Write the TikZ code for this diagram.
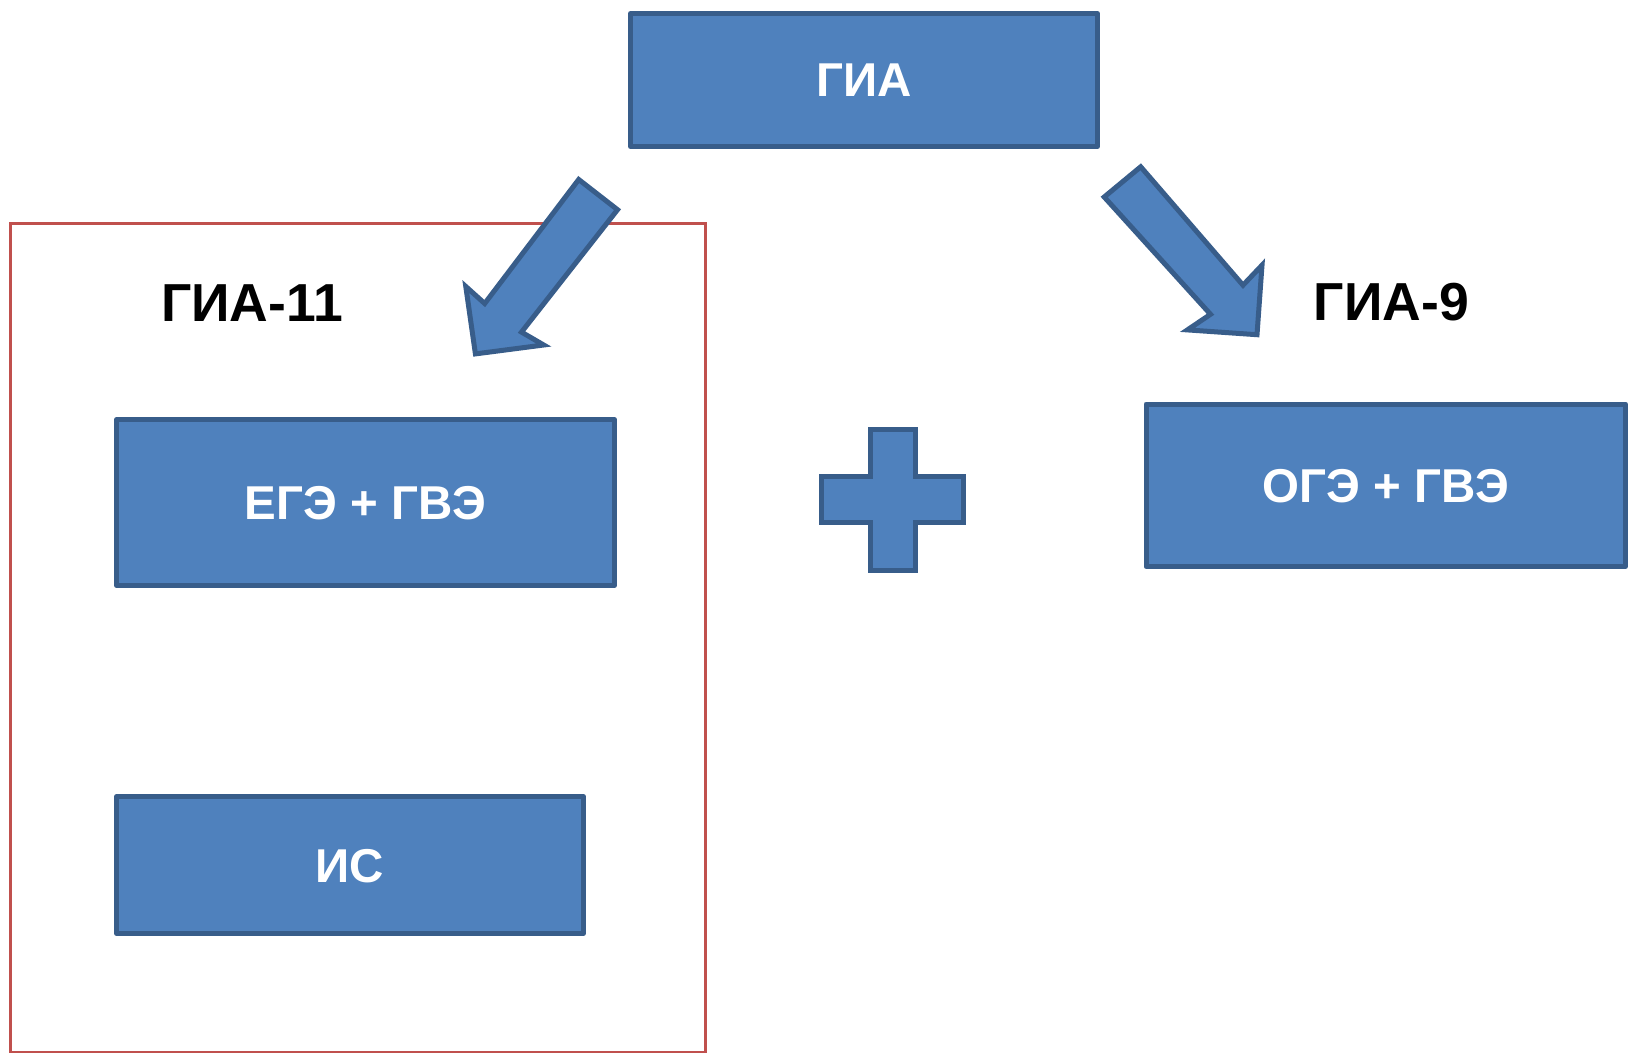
\documentclass[tikz,border=0pt]{standalone}
\usepackage{fontspec}
\setmainfont{Liberation Sans}
\definecolor{boxfill}{HTML}{4F81BD}
\definecolor{boxline}{HTML}{385D8A}
\definecolor{framered}{HTML}{C0504D}
\begin{document}
\begin{tikzpicture}[x=1pt,y=-1pt,
  bluebox/.style={draw=boxline,fill=boxfill,line width=5pt,rectangle,inner sep=0pt,
    line join=round,text=white,text height=34pt,text depth=0pt,
    font=\fontsize{47.5}{57}\selectfont\bfseries},
  blockshape/.style={draw=boxline,fill=boxfill,line width=5pt,line join=miter},
  lbl/.style={inner sep=0pt,anchor=base,text=black,font=\fontsize{53.5}{64}\selectfont\bfseries}]
\useasboundingbox (0,0) rectangle (1630,1054);
\fill[white] (0,0) rectangle (1630,1054);
% red frame
\draw[framered,line width=2.5pt] (10.6,223.5) rectangle (705.3,1052);
% boxes
\node[bluebox,minimum width=467pt,minimum height=133pt] (gia) at (864,80) {ГИА};
\node[bluebox,minimum width=498pt,minimum height=165.4pt] (ege) at (365.5,502.5) {ЕГЭ + ГВЭ};
\node[bluebox,minimum width=467pt,minimum height=136.4pt] (is) at (350,865) {ИС};
\node[bluebox,minimum width=479.5pt,minimum height=162.5pt] (oge) at (1385.75,485.25) {ОГЭ + ГВЭ};
% labels
\node[lbl] (l11) at (252,321.5) {ГИА-11};
\node[lbl] (l9) at (1391.3,320) {ГИА-9};
% left block arrow
\draw[blockshape] (578.7,179.5) -- (617.5,209.7) -- (521.5,332.1) -- (543.7,345)
  -- (475.4,353.9) -- (465.8,286.5) -- (484.7,303.5) -- cycle;
% right block arrow
\draw[blockshape] (1140.7,166.8) -- (1243,285.2) -- (1262,265.2) -- (1257,334.7)
  -- (1187.4,329.9) -- (1210.5,314.3) -- (1104.2,197) -- cycle;
% plus sign
\draw[blockshape] (870.2,429.2) -- (915.2,429.2) -- (915.2,476.8) -- (963.2,476.8)
  -- (963.2,522.5) -- (915.2,522.5) -- (915.2,570.8) -- (870.2,570.8)
  -- (870.2,522.5) -- (821.8,522.5) -- (821.8,476.8) -- (870.2,476.8) -- cycle;
\end{tikzpicture}
\end{document}
